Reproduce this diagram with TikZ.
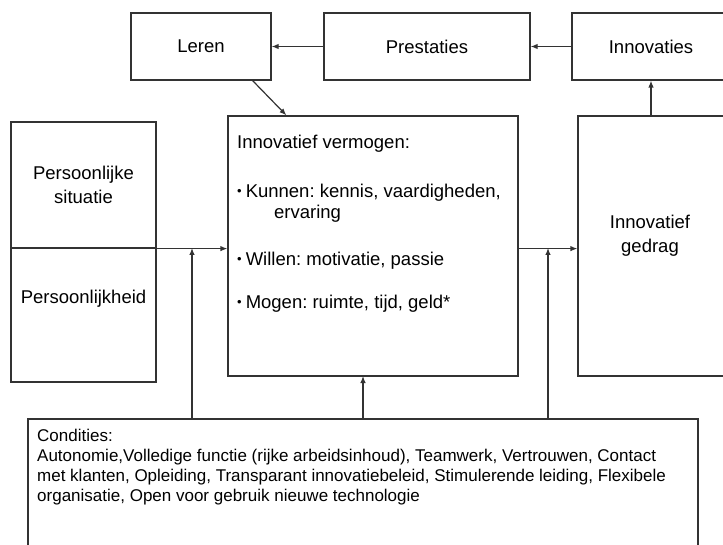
\documentclass[tikz,border=0pt]{standalone}
\usepackage{fontspec}
\setmainfont{Liberation Sans}
\usetikzlibrary{arrows.meta, positioning}
\definecolor{mline}{HTML}{333333}
\newcommand{\dotitem}{\raisebox{1.5pt}{\fontsize{13}{13}\selectfont\textbullet}\hspace{4pt}}
\tikzstyle{box} = [rectangle, draw = mline, line width = 1.2pt, text centered, align = center, font = \fontsize{18.5}{24}\selectfont, inner sep = 0pt]
\tikzstyle{body} = [align = left, anchor = north west, inner sep = 0pt, font = \fontsize{18.5}{21}\selectfont]
\tikzstyle{cable} = [line width = 1.2pt, draw = mline, -{Latex[length=7pt,width=5.5pt]}]

\begin{document}
\frenchspacing
\begin{tikzpicture}[x=1pt, y=-1pt]
  \useasboundingbox (0,0) rectangle (723,545);
  \clip (0,0) rectangle (723,545);
  % top row
  \node (leren) [box, minimum width = 140pt, minimum height = 67pt] at (201,46.5) {Leren};
  \node (prest) [box, minimum width = 206pt, minimum height = 67pt] at (427,46.5) {Prestaties};
  \node (innov) [box, minimum width = 158pt, minimum height = 67pt] at (651,46.5) {Innovaties};
  % left column
  \node (sit) [box, minimum width = 145pt, minimum height = 126pt] at (83.5,185) {Persoonlijke\\situatie};
  \node (pers) [box, minimum width = 145pt, minimum height = 134pt] at (83.5,315) {};
  \node (perstxt) [box, draw = none] at (83.5,299) {Persoonlijkheid};
  % middle
  \node (verm) [box, minimum width = 290pt, minimum height = 260pt] at (373,246) {};
  \node (vermtxt) [body] at (237,134.5) {Innovatief vermogen:\\[28pt]
    \dotitem Kunnen: kennis, vaardigheden,\\
    \hspace{37pt}ervaring\\[26pt]
    \dotitem Willen: motivatie, passie\\[22pt]
    \dotitem Mogen: ruimte, tijd, geld*};
  % right
  \node (gedrag) [box, minimum width = 146pt, minimum height = 260pt] at (651,246) {};
  \node (gedragtxt) [box, draw = none, anchor = north] at (650,214.5) {Innovatief\\gedrag};
  % bottom
  \node (cond) [box, minimum width = 670pt, minimum height = 150pt] at (363,494) {};
  \node (condtxt) [body, font = \fontsize{17}{20.3}\selectfont] at (37,428.5) {Condities:\\
    Autonomie,Volledige functie (rijke arbeidsinhoud), Teamwerk, Vertrouwen, Contact\\
    met klanten, Opleiding, Transparant innovatiebeleid, Stimulerende leiding, Flexibele\\
    organisatie, Open voor gebruik nieuwe technologie};
  \coordinate (j1) at (192,248);
  \coordinate (j2) at (363,376);
  \coordinate (j3) at (548,248);
  \draw [cable] (innov) -- (prest);
  \draw [cable] (prest) -- (leren);
  \draw [cable] ([xshift=-19pt]leren.south east) -- ([xshift=59pt]verm.north west);
  \draw [cable] (gedrag.north) -- (gedrag.north |- innov.south);
  \draw [cable] (sit.south west) -- (sit.south west -| verm.west);
  \draw [cable] (sit.south -| verm.east) -- (sit.south -| gedrag.west);
  \draw [cable] (j1 |- cond.north) -- (j1);
  \draw [cable] (j2 |- cond.north) -- (j2);
  \draw [cable] (j3 |- cond.north) -- (j3);
\end{tikzpicture}
\end{document}
